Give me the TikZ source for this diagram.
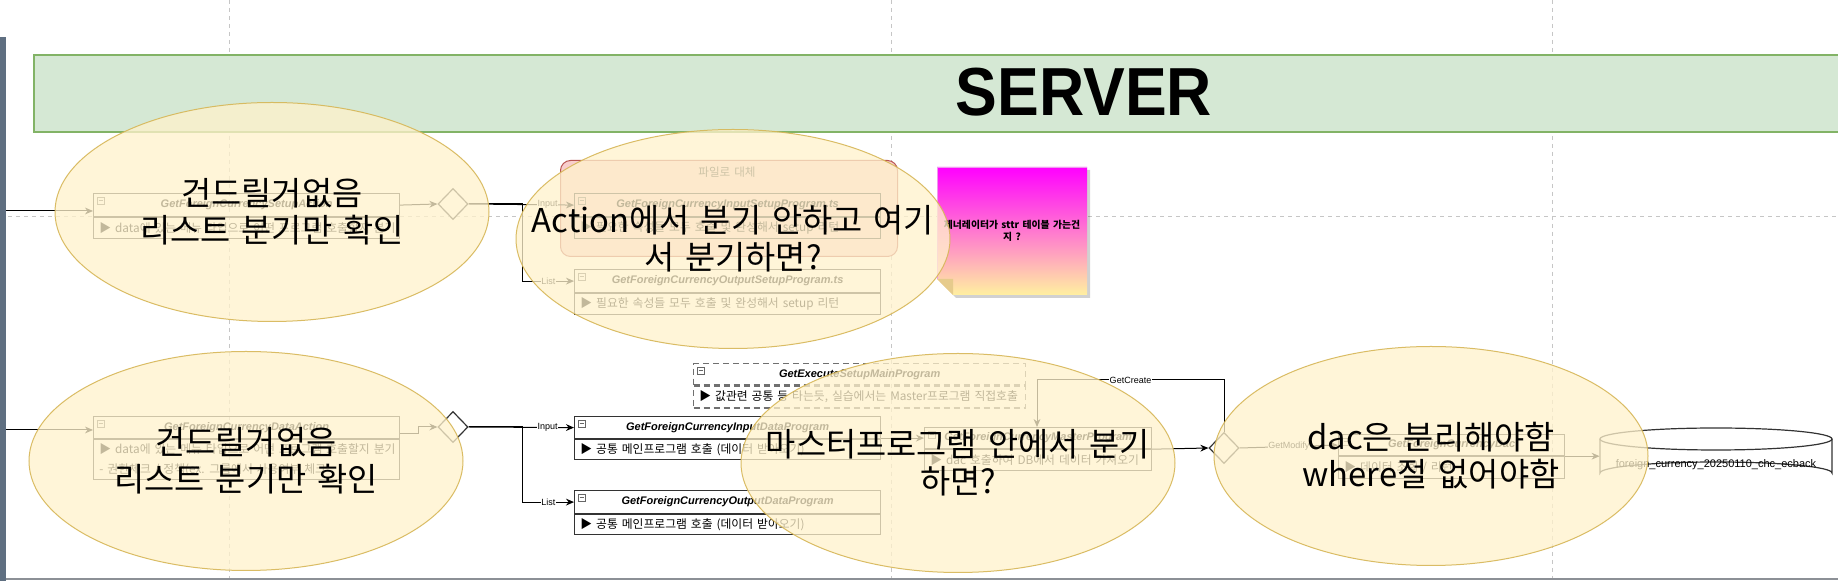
\documentclass[tikz,border=0pt]{standalone}
\usepackage{fontspec}
\setmainfont{Liberation Sans}
\newfontfamily\kr[WordSpace=1.3]{Noto Sans CJK KR}
\newfontfamily\krw[WordSpace=1.5]{Noto Sans CJK KR}
\usetikzlibrary{arrows.meta,calc,shapes.geometric}
\definecolor{gridc}{HTML}{C6C6C6}
\definecolor{barc}{HTML}{5F6F81}
\definecolor{botc}{HTML}{8C9096}
\definecolor{bandfill}{HTML}{D5E8D4}
\definecolor{bandline}{HTML}{82B366}
\definecolor{ellfill}{HTML}{FFF2CC}
\definecolor{ellline}{HTML}{D6B656}
\definecolor{boxc}{HTML}{333333}
\definecolor{dashc}{HTML}{707070}
\definecolor{iconc}{HTML}{666666}
\definecolor{pinkfill}{HTML}{F8CECC}
\definecolor{pinkline}{HTML}{B85450}
\definecolor{notetop}{HTML}{FF00FF}
\definecolor{notebot}{HTML}{FFF0A0}
\definecolor{noteline}{HTML}{EE99EE}
\definecolor{foldc}{HTML}{E6CB8C}
\definecolor{txtc}{HTML}{333333}
\tikzset{
  gridline/.style={gridc, line width=0.5pt, dash pattern=on 2pt off 2pt},
  clsline/.style={draw=boxc, line width=0.6pt},
  hdr/.style={clsline, anchor=north west, inner sep=0pt,
    font=\fontsize{5.5}{6.6}\selectfont\bfseries\itshape},
  bdy/.style={clsline, anchor=north west, inner sep=0pt},
  bdytxt/.style={anchor=west, inner sep=0pt, align=left, font=\kr\fontsize{5.9}{10}\selectfont},
  icon/.style={draw=iconc, line width=0.3pt},
  arr/.style={draw=black, line width=0.5pt, -{Stealth[length=4pt,width=3.4pt]}},
  lbl/.style={font=\fontsize{4.5}{5}\selectfont, fill=white, inner sep=0.4pt},
  dia/.style={diamond, draw=boxc, fill=white, line width=0.6pt, inner sep=0pt,
    minimum width=15pt, minimum height=15.5pt},
  bubble/.style={ellipse, draw=ellline, draw opacity=0.9, fill=ellfill, fill opacity=0.76,
    line width=0.5pt, inner sep=0pt, minimum width=217pt, minimum height=109.5pt},
  bubtxt/.style={align=center, inner sep=0pt, font=\krw\fontsize{16.4}{18.5}\selectfont},
}
\newcommand\clsbox[8]{%
  \node[hdr, minimum width=#4*0.5pt, minimum height=#5*0.5pt] (#1H) at (#2,#3) {#7};
  \node[bdy, minimum width=#4*0.5pt, minimum height=#6*0.5pt] (#1B) at (#1H.south west) {};
  \node[bdytxt] (#1T) at ($(#1B.west)+(6,0)$) {#8};
  \draw[icon] ($(#1H.north west)+(4,4)$) rectangle ++(7,7);
  \draw[icon] ($(#1H.north west)+(5.5,7.5)$) -- ++(4,0);
}
\begin{document}
\begin{tikzpicture}[x=0.5pt,y=-0.5pt]
\useasboundingbox (0,0) rectangle (1838,581);
\fill[white] (0,0) rectangle (1838,581);

% page grid
\draw[gridline] (229,0) -- (229,581);
\draw[gridline] (891,0) -- (891,581);
\draw[gridline] (1552,0) -- (1552,581);
\draw[gridline] (0,217) -- (1838,217);

% container edges
\fill[barc] (0,37) rectangle (6,581);
\draw[botc, line width=0.8pt] (6,579) -- (1838,579);

% SERVER band
\fill[bandfill] (34,55) rectangle (1838,132);
\draw[bandline, line width=0.8pt] (1838,55) -- (34,55) -- (34,132) -- (1838,132);
\node[font=\fontsize{34}{40}\selectfont\bfseries] (server) at (1084,92) {\scalebox{0.92}[1]{SERVER}};

% group "파일로 대체"
\node[draw=pinkline, fill=pinkfill, rounded corners=5pt, line width=0.5pt, anchor=north west,
  minimum width=168.5pt, minimum height=48pt] (grp) at (560,160) {};
\node[font=\kr\fontsize{5.8}{6}\selectfont, text=txtc] (grpL) at (727,172) {파일로 대체};

% class boxes
\clsbox{actA}{93}{193}{306}{23}{21}{GetForeignCurrencySetupAction}{▶ data에 있는 메뉴 타입으로 어떤 프로그램 호출할지 분기}
\clsbox{inS}{574}{193}{306}{23}{21}{GetForeignCurrencyInputSetupProgram.ts}{▶ 필요한 속성들 모두 호출 및 완성해서 setup 리턴}
\clsbox{outS}{574}{269}{306}{23}{21}{GetForeignCurrencyOutputSetupProgram.ts}{▶ 필요한 속성들 모두 호출 및 완성해서 setup 리턴}
\clsbox{actB}{93}{416}{306}{22}{40}{GetForeignCurrencyDataAction}{▶ data에 있는 메뉴 타입으로 어떤 프로그램 호출할지 분기\\- 권한체크 / 정책(ex. 그룹에서 사용여부 체크}
\clsbox{inD}{574}{416}{306}{22}{20}{GetForeignCurrencyInputDataProgram}{▶ 공통 메인프로그램 호출 (데이터 받아오기)}
\clsbox{outD}{574}{490}{306}{23}{20}{GetForeignCurrencyOutputDataProgram}{▶ 공통 메인프로그램 호출 (데이터 받아오기)}
\begin{scope}[clsline/.style={draw=dashc, line width=0.7pt, dash pattern=on 3pt off 2pt}]
\clsbox{exe}{693}{363}{332}{21}{22}{GetExecuteSetupMainProgram}{▶ 값관련 공통 등 타는듯, 실습에서는 Master프로그램 직접호출}
\end{scope}
\clsbox{mst}{924}{427}{227}{21}{21}{GetForeignCurrencyMasterProgram}{▶ dac 호출하여 DB에서 데이터 가져오기}
\clsbox{dac}{1338}{434}{226}{21}{22}{GetForeignCurrencyDac}{▶ 데이터 조회 / 리턴}

% decision diamonds
\node[dia] (dA) at (453,204) {};
\node[dia] (dB) at (453,427) {};
\node[dia] (dC) at (1224,448) {};

% database cylinder
\node[inner sep=0pt, minimum width=116pt, minimum height=28pt] (db) at (1716,456) {};
\filldraw[fill=white, draw=boxc, line width=0.6pt] (1600,439) -- (1600,473)
  arc[start angle=180, end angle=360, x radius=116, y radius=11] -- (1832,439);
\draw[boxc, line width=0.6pt] (1716,439) ellipse [x radius=116, y radius=11];
\node[font=\fontsize{5.5}{6}\selectfont] (dbL) at (1716,465) {foreign\_currency\_20250110\_chc\_ecback};

% connectors, top row
\coordinate (srcA) at (6,211);
\draw[arr] (srcA) -- (srcA -| actAH.west);
\draw[arr] (actAH.east) -- (dA.west);
\draw[arr] (dA.east) -- node[lbl, pos=0.75]{Input} (inSH.west);
\draw[arr] (dA.east) -- ++(54,0) |- node[lbl, pos=0.75]{List} (outSH.west);

% connectors, bottom row
\coordinate (srcB) at (6,430);
\draw[arr] (srcB) -- (srcB -| actBH.west);
\draw[arr] ($(actBH.south east)+(0,-6)$) -- ++(18,0) |- (dB.west);
\draw[arr] (dB.east) -- node[lbl, pos=0.75]{Input} (inDH.west);
\draw[arr] (dB.east) -- ++(54,0) |- node[lbl, pos=0.75]{List} (outDH.west);
\draw[arr] (mstH.west -| inDH.east) -- (mstH.west);
\draw[arr] (mstB.north east) -- (dC.west);
\coordinate (gcTurn) at (1037,380);
\draw[arr] (dC.north) |- node[lbl, pos=0.75]{GetCreate} (gcTurn) -- (gcTurn |- mstH.north);
\draw[arr] (dC.east) -- node[lbl, pos=0.5]{GetModify} (dacH.west);
\draw[arr] (dacB.north east) -- (db.west |- dacB.north east);

% sticky note
\fill[black, opacity=0.18] (940,170) -- (1090,170) -- (1090,298) -- (956,298) -- (940,282) -- cycle;
\shade[top color=notetop, bottom color=notebot] (937,167) -- (1087,167) -- (1087,295) -- (953,295) -- (937,279) -- cycle;
\draw[noteline, line width=0.4pt] (937,279) -- (937,167) -- (1087,167);
\fill[foldc] (937,279) -- (953,279) -- (953,295) -- cycle;
\node[align=center, text=black, font=\kr\fontsize{4.9}{6}\selectfont\bfseries] (note) at (1012,231)
  {제너레이터가 sttr 테이블 가는건\\지 ?};

% comment bubbles
\node[bubble] (eA) at (272,212) {};
\node[bubtxt] (eAt) at (eA.center) {건드릴거없음\\리스트 분기만 확인};
\node[bubble] (eB) at (246,461) {};
\node[bubtxt] (eBt) at (eB.center) {건드릴거없음\\리스트 분기만 확인};
\node[bubble] (eC) at (733,239) {};
\node[bubtxt] (eCt) at (eC.center) {Action에서 분기 안하고 여기\\서 분기하면?};
\node[bubble] (eD) at (958,463) {};
\node[bubtxt] (eDt) at (eD.center) {마스터프로그램 안에서 분기\\하면?};
\node[bubble] (eE) at (1431,456) {};
\node[bubtxt] (eEt) at (eE.center) {dac은 분리해야함\\where절 없어야함};
\end{tikzpicture}
\end{document}
